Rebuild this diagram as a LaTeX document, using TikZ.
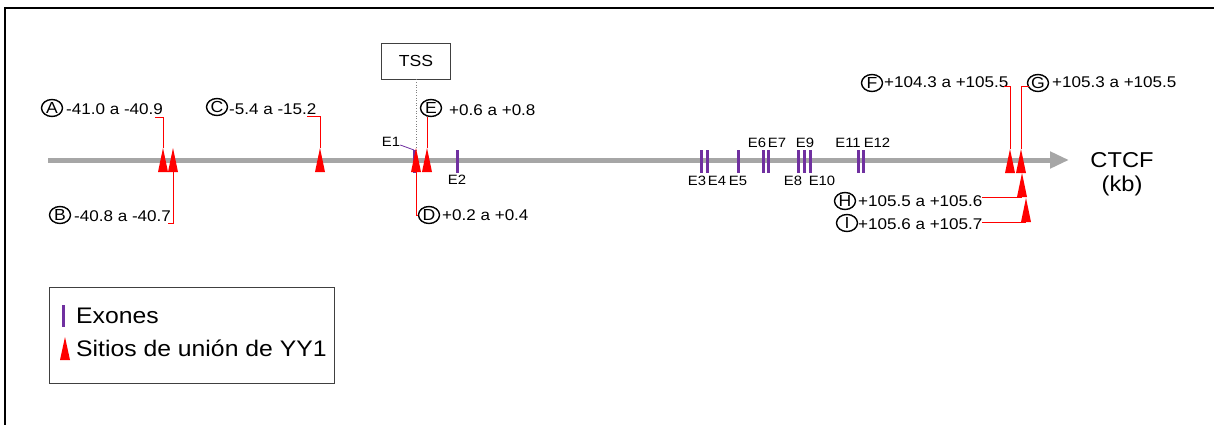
\documentclass[tikz,border=0pt]{standalone}
\usepackage{fontspec}
\setmainfont{Liberation Sans}[FakeStretch=1.1]
\usetikzlibrary{shapes.geometric,arrows.meta}

\definecolor{axisgray}{HTML}{A6A6A6}
\definecolor{exonpurple}{HTML}{7030A0}
\definecolor{sitered}{HTML}{FF0000}
\definecolor{framegray}{HTML}{404040}

\tikzset{
  lbl/.style={inner sep=0pt, anchor=base west, font=\fontsize{15.5}{18}\selectfont},
  circ/.style={ellipse, draw, line width=1.4pt, minimum width=21pt, minimum height=17pt,
               inner sep=0pt, font=\fontsize{16}{18}\selectfont},
  exonbar/.style={draw=exonpurple, line width=3pt},
  elbl/.style={inner sep=0pt, font=\fontsize{13.5}{15}\selectfont},
  leader/.style={draw=sitered, line width=0.9pt},
  legtext/.style={inner sep=0pt, anchor=base west, font=\fontsize{22.5}{26}\selectfont},
}

% binding site: apex coordinate #1, base midpoint #1b, triangle 10 wide and 24 high
\newcommand\bindsite[3]{%
  \coordinate (#1) at (#2,#3);
  \coordinate (#1b) at (#2,#3+24);
  \fill[sitered] ([xshift=-5pt]#1b) -- (#1) -- ([xshift=5pt]#1b) -- cycle;}

% exon: top coordinate #1, bar 23 high
\newcommand\exonmark[2]{%
  \coordinate (#1) at (#2,150);
  \draw[exonbar] (#1) -- ++(0,23);}

\begin{document}
\begin{tikzpicture}[x=1pt,y=-1pt]
\useasboundingbox (0,0) rectangle (1214,425);

% outer frame (top and left edges)
\draw[line width=1.5pt] (5,425) -- (5,8) -- (1214,8);

% gene axis
\coordinate (axL) at (48,160);
\coordinate (axR) at (1069,160);
\draw[axisgray, line width=5pt, -{Triangle[length=19pt,width=16pt]}] (axL) -- (axR);
\node[inner sep=0pt, font=\fontsize{21.5}{24}\selectfont] (ctcf) at (1122,160) {CTCF};
\node[inner sep=0pt, font=\fontsize{21.5}{24}\selectfont] (kb) at (1122,186) {(kb)};

% TSS marker
\node[draw=framegray, line width=0.9pt, minimum width=69pt, minimum height=36pt,
      inner sep=0pt, font=\fontsize{16}{18}\selectfont] (tss) at (416,61) {TSS};

% exons
\exonmark{e1}{414}
\exonmark{e2}{457}
\exonmark{e3}{701}
\exonmark{e4}{707}
\exonmark{e5}{738}
\exonmark{e6}{763}
\exonmark{e7}{768}
\exonmark{e8}{798}
\exonmark{e9}{804}
\exonmark{e10}{810}
\exonmark{e11}{858}
\exonmark{e12}{863}

\draw[gray, line width=0.6pt, dotted] (tss.south) -- (tss.south |- e1);

\node[elbl] (l1) at (391,142) {E1};
\draw[exonpurple, line width=0.8pt] (l1.east) ++(0,3) coordinate (l1k) (l1k) -- (e1);
\node[elbl] (l2) at (457,180) {E2};
\node[elbl] (l3) at (697,181) {E3};
\node[elbl] (l4) at (717,181) {E4};
\node[elbl] (l5) at (738,181) {E5};
\node[elbl] (l8) at (793,181) {E8};
\node[elbl] (l10) at (822,181) {E10};
\node[elbl] (l6) at (757,143) {E6};
\node[elbl] (l7) at (777,143) {E7};
\node[elbl] (l9) at (805,143) {E9};
\node[elbl] (l11) at (848,143) {E11};
\node[elbl] (l12) at (877,143) {E12};

% YY1 binding sites
\bindsite{sA}{163}{148}
\bindsite{sB}{173}{148}
\bindsite{sC}{320}{148}
\bindsite{sD}{416}{148}
\bindsite{sE}{427}{148}
\bindsite{sF}{1010}{149}
\bindsite{sG}{1021}{149}
\bindsite{sH}{1022}{173}
\bindsite{sI}{1026}{198}

% site labels
\node[circ] (cA) at (52,108) {A};
\node[lbl] (tA) at (66,114) {-41.0 a -40.9};
\node[circ] (cB) at (60,215) {B};
\node[lbl] (tB) at (74,221) {-40.8 a -40.7};
\node[circ] (cC) at (217,107) {C};
\node[lbl] (tC) at (229,114) {-5.4 a -15.2};
\node[circ] (cD) at (429,215) {D};
\node[lbl] (tD) at (442,220) {+0.2 a +0.4};
\node[circ] (cE) at (431,108) {E};
\node[lbl] (tE) at (449,116) {+0.6 a +0.8};
\node[circ] (cF) at (872,83) {F};
\node[lbl] (tF) at (884,88) {+104.3 a +105.5};
\node[circ] (cG) at (1038,83) {G};
\node[lbl] (tG) at (1052,88) {+105.3 a +105.5};
\node[circ] (cH) at (845,201) {H};
\node[lbl] (tH) at (858,206) {+105.5 a +105.6};
\node[circ] (cI) at (847,223) {I};
\node[lbl] (tI) at (858,229) {+105.6 a +105.7};

% leaders
\coordinate (kA) at (155,117);
\coordinate (kB) at (168,223);
\coordinate (kC) at (307,116);
\coordinate (kF) at (1004,86);
\coordinate (kG) at (1029,86);
\coordinate (kH) at (982,197);
\coordinate (kI) at (982,222);
\draw[leader] (sA) |- (kA);
\draw[leader] (sBb) |- (kB);
\draw[leader] (sC) |- (kC);
\draw[leader] (sDb) |- (cD.west);
\draw[leader] (sE) -- (sE |- cE.south);
\draw[leader] (sF) |- (kF);
\draw[leader] (sG) |- (kG);
\draw[leader] (kH) -- (sHb);
\draw[leader] (kI) -- (sIb);

% legend
\node[draw=framegray, line width=1pt, minimum width=285pt, minimum height=96pt,
      inner sep=0pt] (legend) at (191.5,335) {};
\coordinate (lgExon) at (63,305);
\draw[exonbar] (lgExon) -- ++(0,22);
\coordinate (lgSite) at (65,337);
\fill[sitered] (lgSite) -- ++(5,23) -- ++(-10,0) -- cycle;
\node[legtext] (lgT1) at (76,323) {Exones};
\node[legtext] (lgT2) at (76,356) {Sitios de unión de YY1};
\end{tikzpicture}
\end{document}
